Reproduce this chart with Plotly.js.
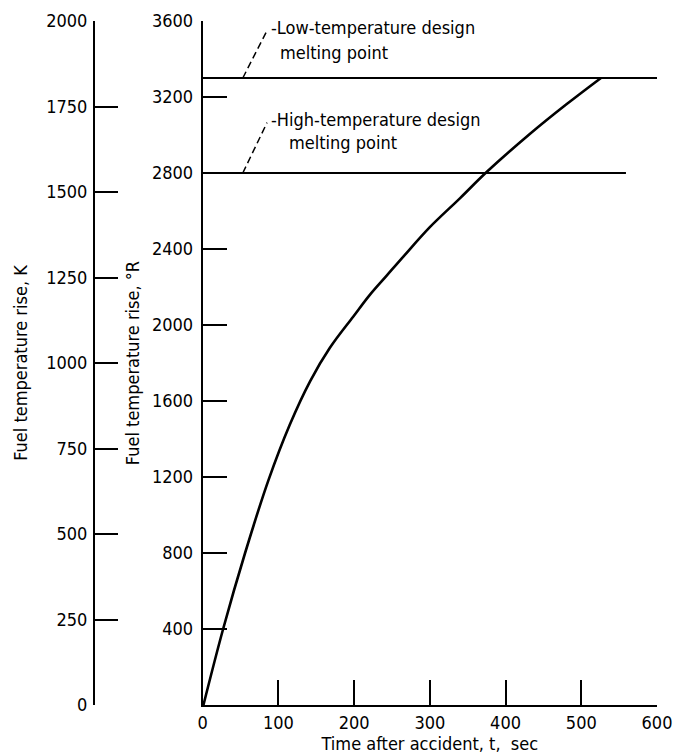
<!DOCTYPE html>
<html>
<head>
<meta charset="utf-8">
<script src="https://cdn.plot.ly/plotly-3.0.1.min.js"></script>
<style>html,body{margin:0;padding:0;background:#fff;}#chart{width:677px;height:754px;}</style>
</head>
<body>
<div id="chart"></div>
<script>
// Fuel temperature rise (°R) versus time after accident (sec)
const timeSec = [1, 27, 56, 87, 115, 142, 168, 199, 221, 243, 265, 300, 340, 375, 432, 480, 526];
const riseR   = [0, 400, 800, 1185, 1475, 1705, 1880, 2045, 2160, 2260, 2360, 2515, 2668, 2805, 3005, 3160, 3300];

// Melting points (°R) and extent of the reference lines (sec)
const lowMeltR = 3300;
const lowMeltSpan = [0, 600];
const highMeltR = 2800;
const highMeltSpan = [0, 559];

// Tick labels
const xTicks = [0, 100, 200, 300, 400, 500, 600];
const rTicks = [400, 800, 1200, 1600, 2000, 2400, 2800, 3200, 3600];
const kTicks = [0, 250, 500, 750, 1000, 1250, 1500, 1750, 2000];

// Leader lines for the labels (data coords)
const lowLeaderX = [53, 85];
const lowLeaderY = [3300, 3550];
const highLeaderX = [53, 85];
const highLeaderY = [2800, 3065];

const FONT = '"DejaVu Sans Condensed", "Liberation Sans Narrow", "Roboto Condensed", "DejaVu Sans", sans-serif';
const FS = 18;

const traces = [
  {x: timeSec, y: riseR, mode: 'lines', line: {color: '#000', width: 2.6, shape: 'spline', smoothing: 1}, hoverinfo: 'x+y'},
  {x: lowMeltSpan, y: [lowMeltR, lowMeltR], mode: 'lines', line: {color: '#000', width: 2}},
  {x: highMeltSpan, y: [highMeltR, highMeltR], mode: 'lines', line: {color: '#000', width: 2}},
  // empty trace so the kelvin axis is drawn
  {x: [null], y: [null], yaxis: 'y2', mode: 'lines', hoverinfo: 'skip'}
];

const layout = {
  width: 677, height: 754,
  margin: {l: 0, r: 20, t: 21, b: 49},
  paper_bgcolor: '#fff', plot_bgcolor: '#fff',
  showlegend: false,
  font: {family: FONT, color: '#000', size: FS},
  xaxis: {
    domain: [0.3085, 1], range: [0, 600], tickvals: xTicks, ticktext: xTicks.map(String),
    ticks: 'inside', ticklen: 25, tickwidth: 2, tickcolor: '#000',
    showline: true, linewidth: 2, linecolor: '#000', showgrid: false, zeroline: false,
    tickfont: {family: FONT, size: FS},
    title: {text: 'Time after accident, t,  sec', font: {family: FONT, size: FS}, standoff: 0}
  },
  yaxis: {
    range: [0, 3600], tickvals: rTicks, ticktext: rTicks.map(String),
    ticks: 'inside', ticklen: 24, tickwidth: 2, tickcolor: '#000',
    showline: true, linewidth: 2, linecolor: '#000', showgrid: false, zeroline: false,
    tickfont: {family: FONT, size: FS}, ticklabelstandoff: 4,
    title: {text: 'Fuel temperature rise, °R', font: {family: FONT, size: FS}, standoff: 8}
  },
  yaxis2: {
    overlaying: 'y', anchor: 'free', position: 0.1431, side: 'left',
    range: [0, 2000], tickvals: kTicks, ticktext: kTicks.map(String),
    ticks: 'inside', ticklen: 23, tickwidth: 2, tickcolor: '#000',
    showline: true, linewidth: 2, linecolor: '#000', showgrid: false, zeroline: false,
    tickfont: {family: FONT, size: FS}, ticklabelstandoff: 2,
    title: {text: 'Fuel temperature rise, K', font: {family: FONT, size: FS}, standoff: 13}
  },
  shapes: [
    {type: 'line', xref: 'x', yref: 'y', x0: lowLeaderX[0], y0: lowLeaderY[0], x1: lowLeaderX[1], y1: lowLeaderY[1], line: {color: '#000', width: 1.5, dash: '7px,4px'}},
    {type: 'line', xref: 'x', yref: 'y', x0: highLeaderX[0], y0: highLeaderY[0], x1: highLeaderX[1], y1: highLeaderY[1], line: {color: '#000', width: 1.5, dash: '7px,4px'}}
  ],
  annotations: [
    {xref: 'x', yref: 'y', x: 88, y: 3568, xanchor: 'left', yanchor: 'middle', showarrow: false, align: 'left', text: '-Low-temperature design', font: {family: FONT, size: FS}},
    {xref: 'x', yref: 'y', x: 100, y: 3432, xanchor: 'left', yanchor: 'middle', showarrow: false, align: 'left', text: 'melting point', font: {family: FONT, size: FS}},
    {xref: 'x', yref: 'y', x: 88, y: 3079, xanchor: 'left', yanchor: 'middle', showarrow: false, align: 'left', text: '-High-temperature design', font: {family: FONT, size: FS}},
    {xref: 'x', yref: 'y', x: 111, y: 2958, xanchor: 'left', yanchor: 'middle', showarrow: false, align: 'left', text: 'melting point', font: {family: FONT, size: FS}}
  ]
};

Plotly.newPlot('chart', traces, layout, {displayModeBar: false, staticPlot: true});
</script>
</body>
</html>
